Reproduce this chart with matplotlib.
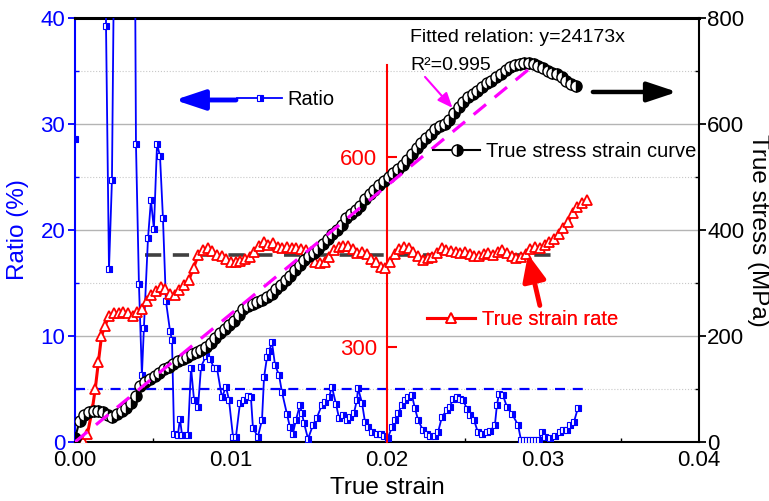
import numpy as np
import matplotlib
matplotlib.use('Agg')
import matplotlib.pyplot as plt
from matplotlib.ticker import MultipleLocator, FormatStrFormatter

plt.rcParams['font.family'] = ['Liberation Sans', 'DejaVu Sans']

nan = np.nan

# ---------------- ratio between two measurements (%) ----------------
ratio_strain = [0.0, 0.0001, 0.00198, 0.00199, 0.00218, 0.00237, 0.00250, 0.00385, 0.00391, 0.00410,
                0.00429, 0.00442, 0.00468, 0.00487, 0.00506, 0.00526, 0.00545, 0.00564, 0.00583, 0.00609,
                0.00622, 0.00635, 0.00660, 0.00673, 0.00686, 0.00724, 0.00744, 0.00763, 0.00789, 0.00808,
                0.00840, 0.00866, 0.00891, 0.00910, 0.00942, 0.00968, 0.00987, 0.01013, 0.01032, 0.01058,
                0.01083, 0.01109, 0.01128, 0.01141, 0.01173, 0.01199, 0.01212, 0.01231, 0.01244, 0.01263,
                0.01282, 0.01308, 0.01327, 0.01359, 0.01378, 0.01397, 0.01417, 0.01442, 0.01455, 0.01468,
                0.01494, 0.01526, 0.01551, 0.01583, 0.01603, 0.01628, 0.01647, 0.01673, 0.01692, 0.01718,
                0.01744, 0.01763, 0.01788, 0.01808, 0.01814, 0.01840, 0.01859, 0.01878, 0.01904, 0.01936,
                0.01962, 0.01981, 0.02006, 0.02032, 0.02051, 0.02071, 0.02096, 0.02115, 0.02135, 0.02160,
                0.02179, 0.02199, 0.02231, 0.02256, 0.02276, 0.02308, 0.02327, 0.02353, 0.02385, 0.02404,
                0.02423, 0.02449, 0.02468, 0.02487, 0.02513, 0.02532, 0.02558, 0.02583, 0.02609, 0.02641,
                0.02660, 0.02692, 0.02705, 0.02718, 0.02744, 0.02769, 0.02804, 0.02840, 0.02859, 0.02878,
                0.02897, 0.02917, 0.02936, 0.02955, 0.02974, 0.02994, 0.03013, 0.03045, 0.03077, 0.03109,
                0.03128, 0.03154, 0.03173, 0.03199, 0.03224]
ratio_pct = [28.6, nan, 45, 39.2, 16.3, 24.7, 45, 45, 28.1, 14.9,
             6.3, 10.8, 19.2, 22.8, 20.1, 28.1, 27.0, 21.1, 13.3, 10.5,
             9.6, 0.8, 0.7, 2.2, 0.7, 0.7, 7.0, 4.0, 3.3, 7.1,
             8.1, 7.8, 7.0, 7.0, 4.2, 5.2, 4.0, 0.5, 0.5, 3.7,
             4.0, 4.3, 4.2, 1.3, 0.5, 2.1, 6.1, 8.0, 8.6, 9.4,
             7.3, 6.3, 4.7, 2.6, 1.4, 0.8, 2.1, 3.5, 2.7, 1.8,
             0.3, 1.6, 2.3, 3.5, 3.8, 4.2, 5.2, 3.6, 2.3, 2.5,
             2.1, 2.4, 2.7, 4.0, 5.1, 3.7, 1.9, 1.4, 0.9, 0.8,
             0.8, 0.6, 0.4, 1.4, 2.1, 2.7, 3.5, 4.0, 4.2, 4.4,
             3.2, 2.1, 1.1, 0.8, 0.6, 0.6, 0.9, 2.4, 3.0, 3.3,
             4.1, 4.2, 4.1, 4.0, 3.1, 2.5, 2.1, 0.9, 0.8, 0.9,
             1.0, 1.6, 3.5, 4.5, 4.4, 3.3, 2.6, 1.6, 0.2, 0.2,
             0.2, 0.2, 0.2, 0.2, 0.2, 0.9, 0.5, 0.4, 0.6, 0.9,
             1.1, 1.1, 1.6, 1.9, 3.2]
ratio_limit = 5.0          # blue dashed level
ratio_limit_end = 0.0329
rate_mean = 17.6           # grey dashed level (on ratio scale)
rate_mean_span = [0.0045, 0.0306]

# ---------------- true stress - strain curve (MPa) ----------------
stress_strain = [0.0000, 0.0003, 0.0006, 0.0009, 0.0012, 0.0015, 0.0018, 0.0021, 0.0024, 0.0027,
                 0.0030, 0.0033, 0.0036, 0.0039, 0.0042, 0.0045, 0.0048, 0.0051, 0.0054, 0.0057,
                 0.0060, 0.0063, 0.0066, 0.0069, 0.0072, 0.0075, 0.0078, 0.0081, 0.0084, 0.0087,
                 0.0090, 0.0093, 0.0096, 0.0099, 0.0102, 0.0105, 0.0108, 0.0111, 0.0114, 0.0117,
                 0.0120, 0.0123, 0.0126, 0.0129, 0.0132, 0.0135, 0.0138, 0.0141, 0.0144, 0.0147,
                 0.0150, 0.0153, 0.0156, 0.0159, 0.0162, 0.0165, 0.0168, 0.0171, 0.0174, 0.0177,
                 0.0180, 0.0183, 0.0186, 0.0189, 0.0192, 0.0195, 0.0198, 0.0201, 0.0204, 0.0207,
                 0.0210, 0.0213, 0.0216, 0.0219, 0.0222, 0.0225, 0.0228, 0.0231, 0.0234, 0.0237,
                 0.0240, 0.0243, 0.0246, 0.0249, 0.0252, 0.0255, 0.0258, 0.0261, 0.0264, 0.0267,
                 0.0270, 0.0273, 0.0276, 0.0279, 0.0282, 0.0285, 0.0288, 0.0291, 0.0294, 0.0297,
                 0.0300, 0.0303, 0.0306, 0.0309, 0.0312, 0.0315, 0.0318, 0.0321]
stress_mpa = [7, 40, 50, 56, 58, 58, 56, 50, 47, 52,
              58, 64, 74, 86, 105, 113, 119, 125, 131, 137,
              142, 147, 152, 156, 161, 166, 170, 174, 180, 186,
              196, 206, 214, 221, 228, 240, 250, 256, 260, 264,
              268, 274, 280, 288, 296, 305, 314, 325, 334, 344,
              350, 356, 365, 374, 383, 392, 400, 410, 422, 430,
              437, 446, 458, 468, 476, 485, 493, 500, 508, 515,
              522, 532, 544, 555, 564, 573, 582, 590, 596, 600,
              608, 620, 632, 642, 650, 656, 663, 670, 677, 682,
              688, 695, 702, 708, 712, 714, 716, 715, 713, 710,
              706, 700, 697, 694, 688, 682, 676, 671]
fit_slope = 24173
fit_r2 = 0.995
fit_end = 0.0295

# ---------------- true strain rate ----------------
rate_strain = [0.0005, 0.0008, 0.0011, 0.0013, 0.0015, 0.0017, 0.0019, 0.0022,
               0.0025, 0.0028, 0.0031, 0.0034, 0.0037, 0.0040, 0.0043, 0.0046, 0.0049, 0.0052,
               0.0055, 0.0058, 0.0061, 0.0064, 0.0067, 0.0070, 0.0073, 0.0076, 0.0079, 0.0082,
               0.0085, 0.0088, 0.0091, 0.0094, 0.0097, 0.0100, 0.0103, 0.0106, 0.0109, 0.0112,
               0.0115, 0.0118, 0.0121, 0.0124, 0.0127, 0.0130, 0.0133, 0.0136, 0.0139, 0.0142,
               0.0145, 0.0148, 0.0151, 0.0154, 0.0157, 0.0160, 0.0163, 0.0166, 0.0169, 0.0172,
               0.0175, 0.0178, 0.0181, 0.0184, 0.0187, 0.0190, 0.0193, 0.0196, 0.0199, 0.0202,
               0.0205, 0.0208, 0.0211, 0.0214, 0.0217, 0.0220, 0.0223, 0.0226, 0.0229, 0.0232,
               0.0235, 0.0238, 0.0241, 0.0244, 0.0247, 0.0250, 0.0253, 0.0256, 0.0259, 0.0262,
               0.0265, 0.0268, 0.0271, 0.0274, 0.0277, 0.0280, 0.0283, 0.0286, 0.0289, 0.0292,
               0.0295, 0.0298, 0.0301, 0.0304, 0.0307, 0.0310, 0.0313, 0.0316, 0.0319, 0.0322,
               0.0325, 0.0328]
rate_value = [152, 163, 200, 234, 276, 317, 333, 349,
              354, 354, 355, 354, 349, 355, 360, 373, 382, 388,
              395, 392, 384, 382, 390, 398, 406, 425, 445, 453,
              456, 452, 445, 444, 439, 434, 434, 436, 439, 442,
              450, 459, 466, 461, 464, 458, 456, 458, 456, 456,
              455, 453, 450, 434, 433, 434, 442, 453, 458, 459,
              459, 455, 448, 450, 447, 439, 434, 426, 425, 434,
              447, 455, 458, 456, 450, 444, 437, 441, 442, 448,
              456, 453, 452, 450, 448, 450, 447, 444, 444, 447,
              448, 445, 450, 453, 448, 444, 441, 442, 447, 455,
              458, 456, 461, 466, 471, 478, 488, 497, 512, 521,
              527, 532]
rate_ticks = [300, 600]
rate_axis_x = 0.02

# ---------------- figure ----------------
fig = plt.figure(figsize=(7.69, 5.01), dpi=100)
ax = fig.add_axes([0.0975, 0.1178, 0.8114, 0.8463])
ax3 = ax.twinx()   # strain rate, axis drawn inside the plot
ax2 = ax.twinx()   # true stress, right axis

# left axis : ratio
ax.set_xlim(0, 0.04)
ax.set_ylim(0, 40)
ax.xaxis.set_major_locator(MultipleLocator(0.01))
ax.xaxis.set_minor_locator(MultipleLocator(0.005))
ax.xaxis.set_major_formatter(FormatStrFormatter('%.2f'))
ax.yaxis.set_major_locator(MultipleLocator(10))
ax.yaxis.set_minor_locator(MultipleLocator(5))
ax.grid(which='major', axis='y', color='#b4b4b4', lw=1.0)
ax.grid(which='minor', axis='y', color='#c8c8c8', lw=0.8, ls=':')
ax.set_axisbelow(True)
ax.tick_params(axis='y', which='major', direction='out', length=5, width=1.3,
               colors='blue', labelsize=16, pad=2)
ax.tick_params(axis='y', which='minor', direction='in', length=3, width=1, colors='blue')
ax.tick_params(axis='x', which='major', direction='in', length=5, width=1.3, labelsize=16, pad=6)
ax.tick_params(axis='x', which='minor', direction='in', length=3, width=1)
ax.spines['left'].set_color('blue')
ax.spines['left'].set_linewidth(1.5)
ax.spines['bottom'].set_linewidth(1.5)
ax.spines['top'].set_linewidth(2.2)
ax.spines['right'].set_visible(False)
ax.set_xlabel('True strain', fontsize=17.5, labelpad=4)
ax.set_ylabel('Ratio (%)', fontsize=17.5, color='blue', labelpad=8)

ax.plot([0, ratio_limit_end], [ratio_limit, ratio_limit], color='blue', lw=1.6,
        dashes=(4.5, 3.5), zorder=2)
ax.plot(rate_mean_span, [rate_mean, rate_mean], color='#404040', lw=2.6,
        dashes=(4.5, 3.2), zorder=2)
ratio_line, = ax.plot(ratio_strain, ratio_pct, color='blue', lw=1.3, marker='s', ms=4.2,
                      mec='blue', mew=0.8, mfc='blue', mfcalt='white', fillstyle='right',
                      zorder=3)

# strain rate axis at x = 0.02
ax3.set_ylim(150, 820)
for s in ['top', 'bottom', 'right']:
    ax3.spines[s].set_visible(False)
ax3.spines['left'].set_position(('data', rate_axis_x))
ax3.spines['left'].set_bounds(150, 745)
ax3.spines['left'].set_color('red')
ax3.spines['left'].set_linewidth(1.5)
ax3.yaxis.tick_left()
ax3.set_yticks(rate_ticks)
ax3.tick_params(axis='y', direction='in', length=7, width=1.5, colors='red',
                labelsize=16, pad=7)
rate_line, = ax3.plot(rate_strain, rate_value, color='red', lw=2.2, marker='^', ms=7,
                      mec='red', mew=1.3, mfc='white', zorder=3)

# right axis : true stress
ax2.set_ylim(0, 800)
ax2.yaxis.set_major_locator(MultipleLocator(200))
ax2.yaxis.set_minor_locator(MultipleLocator(100))
ax2.tick_params(axis='y', which='major', direction='out', length=5, width=1.3,
                labelsize=16, pad=1)
ax2.tick_params(axis='y', which='minor', direction='in', length=3, width=1)
for s in ['top', 'bottom', 'left']:
    ax2.spines[s].set_visible(False)
ax2.spines['right'].set_linewidth(1.5)
ax2.set_ylabel('True stress (MPa)', fontsize=17.5, rotation=270, labelpad=18)

stress_line, = ax2.plot(stress_strain, stress_mpa, color='black', lw=1.5, marker='o', ms=8,
                        mec='black', mew=1.0, mfc='black', mfcalt='white', fillstyle='right',
                        zorder=3)
fit_x = np.array([0.0, fit_end])
ax2.plot(fit_x, fit_slope * fit_x, color='#ff00ff', lw=2.3, dashes=(5, 3.5), zorder=4)

# series keys
leg_kw = dict(loc='center left', frameon=False, fontsize=14.5, borderpad=0,
              borderaxespad=0, numpoints=1)
leg1 = ax2.legend([ratio_line], ['Ratio'], bbox_to_anchor=(0.2596, 0.8066),
                  handlelength=2.25, handletextpad=0.27, **leg_kw)
ax2.add_artist(leg1)
leg2 = ax2.legend([stress_line], ['True stress strain curve'], bbox_to_anchor=(0.574, 0.684),
                  handlelength=2.35, handletextpad=0.27, **leg_kw)
ax2.add_artist(leg2)
leg3 = ax2.legend([rate_line], ['True strain rate'], bbox_to_anchor=(0.564, 0.288),
                  handlelength=2.4, handletextpad=0.36, labelcolor='red', **leg_kw)
ax2.add_artist(leg3)

# arrows pointing to the axis of each curve
ax2.annotate('', xy=(0.160, 0.8066), xytext=(0.258, 0.8066), xycoords='axes fraction',
             arrowprops=dict(arrowstyle='-|>,head_length=0.9,head_width=0.3', color='blue',
                             lw=3.5, mutation_scale=20, shrinkA=0, shrinkB=0))
ax2.annotate('', xy=(0.965, 0.8255), xytext=(0.830, 0.8255), xycoords='axes fraction',
             arrowprops=dict(arrowstyle='-|>,head_length=0.9,head_width=0.3', color='black',
                             lw=3.2, mutation_scale=20, shrinkA=0, shrinkB=0))
ax2.annotate('', xy=(0.726, 0.443), xytext=(0.745, 0.322), xycoords='axes fraction',
             arrowprops=dict(arrowstyle='-|>,head_length=0.8,head_width=0.35', color='red',
                             lw=3.5, mutation_scale=20, shrinkA=0, shrinkB=0))

# fitted relation
ax2.text(0.537, 0.953, 'Fitted relation: y=%dx' % fit_slope, transform=ax2.transAxes,
         fontsize=14, ha='left', va='center')
ax2.text(0.537, 0.889, 'R\u00b2=%.3f' % fit_r2, transform=ax2.transAxes,
         fontsize=14, ha='left', va='center')
ax2.annotate('', xy=(0.605, 0.788), xytext=(0.561, 0.861), xycoords='axes fraction',
             arrowprops=dict(arrowstyle='-|>,head_length=0.6,head_width=0.25', color='#ff00ff',
                             lw=1.5, mutation_scale=15, shrinkA=0, shrinkB=0))

fig.savefig('out.png', dpi=100)
